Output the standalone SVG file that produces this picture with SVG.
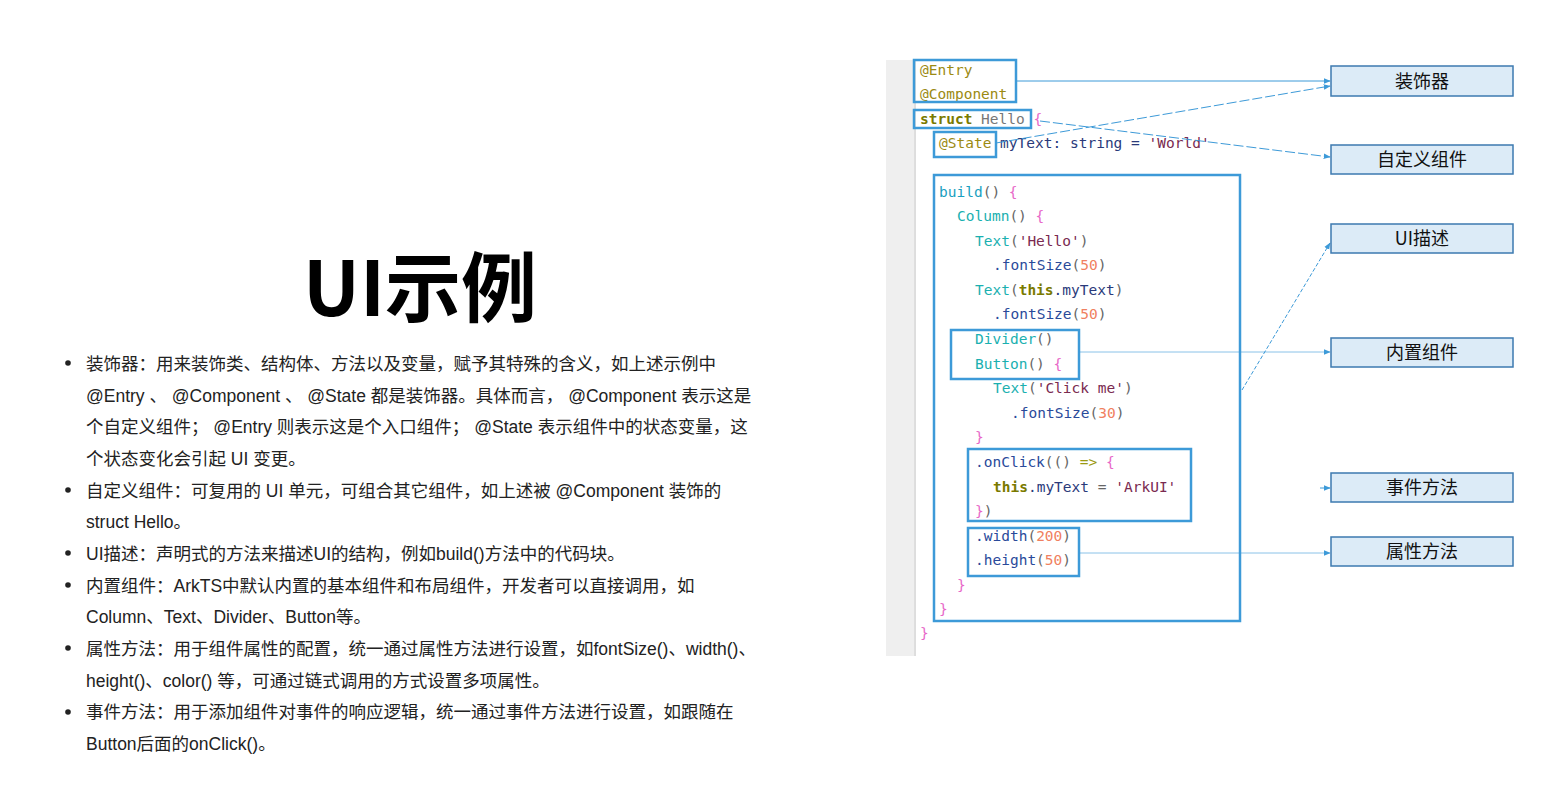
<svg xmlns="http://www.w3.org/2000/svg" width="1555" height="796" viewBox="0 0 1555 796">
<style>
.b{fill:none;stroke:#3d9ad8;stroke-width:2.5}
.lb rect{fill:#dcebf7;stroke:#3d7ab0;stroke-width:1.5}
.lb text{font:18px "Noto Sans CJK SC",sans-serif;text-anchor:middle;fill:#111}
.c{font:14.5px "DejaVu Sans Mono",monospace}
.t{font:17.5px "Liberation Sans","Noto Sans CJK SC",sans-serif;fill:#222}
.ln{stroke:#3d9ad8;stroke-width:1;fill:none;marker-end:url(#a)}
</style>
<defs><marker id="a" viewBox="0 0 10 10" refX="9" refY="5" markerWidth="7" markerHeight="7" orient="auto"><path d="M0,1L10,5L0,9z" fill="#3d9ad8"/></marker></defs>
<rect width="1555" height="796" fill="#fff"/>
<text x="420" y="316" font-family="Noto Sans CJK SC,sans-serif" font-size="76" font-weight="bold" text-anchor="middle" fill="#000">UI示例</text>
<g class="t">
<g fill="#222"><circle cx="68" cy="363" r="2.8"/><circle cx="68" cy="490" r="2.8"/><circle cx="68" cy="553" r="2.8"/><circle cx="68" cy="585" r="2.8"/><circle cx="68" cy="648" r="2.8"/><circle cx="68" cy="712" r="2.8"/></g>
<text x="86" y="370">装饰器：用来装饰类、结构体、方法以及变量，赋予其特殊的含义，如上述示例中</text>
<text x="86" y="402">@Entry 、 @Component 、 @State 都是装饰器。具体而言， @Component 表示这是</text>
<text x="86" y="433">个自定义组件； @Entry 则表示这是个入口组件； @State 表示组件中的状态变量，这</text>
<text x="86" y="465">个状态变化会引起 UI 变更。</text>
<text x="86" y="497">自定义组件：可复用的 UI 单元，可组合其它组件，如上述被 @Component 装饰的</text>
<text x="86" y="528">struct Hello。</text>
<text x="86" y="560">UI描述：声明式的方法来描述UI的结构，例如build()方法中的代码块。</text>
<text x="86" y="592">内置组件：ArkTS中默认内置的基本组件和布局组件，开发者可以直接调用，如</text>
<text x="86" y="623">Column、Text、Divider、Button等。</text>
<text x="86" y="655">属性方法：用于组件属性的配置，统一通过属性方法进行设置，如fontSize()、width()、</text>
<text x="86" y="687">height()、color() 等，可通过链式调用的方式设置多项属性。</text>
<text x="86" y="718">事件方法：用于添加组件对事件的响应逻辑，统一通过事件方法进行设置，如跟随在</text>
<text x="86" y="750">Button后面的onClick()。</text>
</g>
<g id="code">
<rect x="886" y="60" width="30" height="596" fill="#efefef"/>
<line x1="915" y1="60" x2="915" y2="656" stroke="#ccc"/>
<g class="c">
<text x="920" y="75" fill="#9b8a12">@Entry</text>
<text x="920" y="99" fill="#9b8a12">@Component</text>
<text x="920" y="124"><tspan fill="#7a7a00" font-weight="bold">struct</tspan><tspan fill="#777"> Hello </tspan><tspan fill="#e868c8">{</tspan></text>
<text x="939" y="148"><tspan fill="#9b8a12">@State</tspan><tspan fill="#2a3a7a"> myText: string = </tspan><tspan fill="#7a2a50">'World'</tspan></text>
<text x="939" y="197"><tspan fill="#1aa0c0">build</tspan><tspan fill="#666">() </tspan><tspan fill="#e868c8">{</tspan></text>
<text x="957" y="221"><tspan fill="#1ab0b0">Column</tspan><tspan fill="#666">() </tspan><tspan fill="#e868c8">{</tspan></text>
<text x="975" y="246"><tspan fill="#1ab0b0">Text</tspan><tspan fill="#666">(</tspan><tspan fill="#7a2a50">'Hello'</tspan><tspan fill="#666">)</tspan></text>
<text x="993" y="270"><tspan fill="#2a4a9a">.fontSize</tspan><tspan fill="#666">(</tspan><tspan fill="#f08060">50</tspan><tspan fill="#666">)</tspan></text>
<text x="975" y="295"><tspan fill="#1ab0b0">Text</tspan><tspan fill="#666">(</tspan><tspan fill="#7a7a00" font-weight="bold">this</tspan><tspan fill="#2a3a7a">.myText</tspan><tspan fill="#666">)</tspan></text>
<text x="993" y="319"><tspan fill="#2a4a9a">.fontSize</tspan><tspan fill="#666">(</tspan><tspan fill="#f08060">50</tspan><tspan fill="#666">)</tspan></text>
<text x="975" y="344"><tspan fill="#1ab0b0">Divider</tspan><tspan fill="#666">()</tspan></text>
<text x="975" y="369"><tspan fill="#1ab0b0">Button</tspan><tspan fill="#666">() </tspan><tspan fill="#e868c8">{</tspan></text>
<text x="993" y="393"><tspan fill="#1ab0b0">Text</tspan><tspan fill="#666">(</tspan><tspan fill="#7a2a50">'Click me'</tspan><tspan fill="#666">)</tspan></text>
<text x="1011" y="418"><tspan fill="#2a4a9a">.fontSize</tspan><tspan fill="#666">(</tspan><tspan fill="#f08060">30</tspan><tspan fill="#666">)</tspan></text>
<text x="975" y="442" fill="#e868c8">}</text>
<text x="975" y="467"><tspan fill="#2a4a9a">.onClick</tspan><tspan fill="#666">(() </tspan><tspan fill="#9b9a12">=&gt;</tspan><tspan fill="#e868c8"> {</tspan></text>
<text x="993" y="492"><tspan fill="#7a7a00" font-weight="bold">this</tspan><tspan fill="#2a3a7a">.myText</tspan><tspan fill="#666"> = </tspan><tspan fill="#7a2a50">'ArkUI'</tspan></text>
<text x="975" y="516"><tspan fill="#e868c8">}</tspan><tspan fill="#666">)</tspan></text>
<text x="975" y="541"><tspan fill="#2a4a9a">.width</tspan><tspan fill="#666">(</tspan><tspan fill="#f08060">200</tspan><tspan fill="#666">)</tspan></text>
<text x="975" y="565"><tspan fill="#2a4a9a">.height</tspan><tspan fill="#666">(</tspan><tspan fill="#f08060">50</tspan><tspan fill="#666">)</tspan></text>
<text x="957" y="590" fill="#e868c8">}</text>
<text x="939" y="614" fill="#e868c8">}</text>
<text x="920" y="638" fill="#e868c8">}</text>
</g>
<rect class="b" x="914" y="60" width="102" height="42"/>
<rect class="b" x="914" y="110" width="117" height="18"/>
<rect class="b" x="934" y="132" width="62" height="25"/>
<rect class="b" x="934" y="175" width="306" height="446"/>
<rect class="b" x="951" y="330" width="128" height="49"/>
<rect class="b" x="968" y="449" width="223" height="72"/>
<rect class="b" x="968" y="528" width="111" height="48"/>
</g>
<g id="connectors">
<line class="ln" x1="1016" y1="81" x2="1330" y2="81"/>
<line class="ln" x1="996" y1="143" x2="1330" y2="86" stroke-dasharray="10,3"/>
<line class="ln" x1="1040" y1="121" x2="1330" y2="157" stroke-dasharray="10,3"/>
<line class="ln" x1="1242" y1="390" x2="1330" y2="243" stroke-dasharray="4,2"/>
<line class="ln" x1="1079" y1="352" x2="1330" y2="352" stroke-opacity="0.6"/>
<line class="ln" x1="1320" y1="488" x2="1330" y2="488"/>
<line class="ln" x1="1079" y1="553" x2="1330" y2="553" stroke-opacity="0.6"/>
</g>
<g id="n1" class="lb"><rect x="1331" y="66" width="182" height="30"/><text x="1422" y="88">装饰器</text></g>
<g id="n2" class="lb"><rect x="1331" y="145" width="182" height="29"/><text x="1422" y="166">自定义组件</text></g>
<g id="n3" class="lb"><rect x="1331" y="224" width="182" height="29"/><text x="1422" y="245">UI描述</text></g>
<g id="n4" class="lb"><rect x="1331" y="338" width="182" height="29"/><text x="1422" y="359">内置组件</text></g>
<g id="n5" class="lb"><rect x="1331" y="473" width="182" height="29"/><text x="1422" y="494">事件方法</text></g>
<g id="n6" class="lb"><rect x="1331" y="537" width="182" height="29"/><text x="1422" y="558">属性方法</text></g>
</svg>
